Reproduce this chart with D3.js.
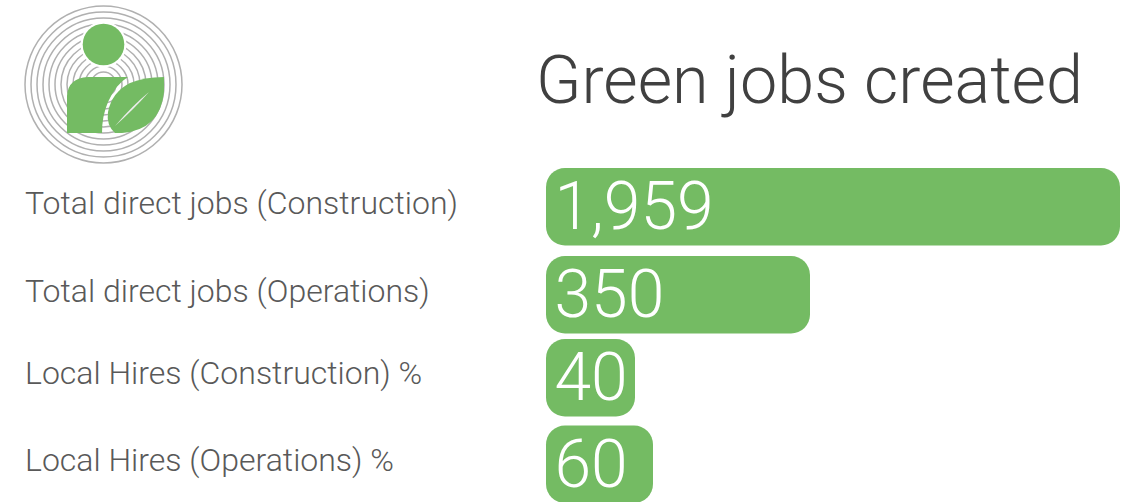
<!DOCTYPE html>
<html><head><meta charset="utf-8">
<script src="https://cdn.jsdelivr.net/npm/d3@7/dist/d3.min.js"></script>
<style>html,body{margin:0;padding:0;background:#fff;overflow:hidden}svg{display:block}</style>
</head><body><svg id="c" width="1129" height="502"></svg>
<script>
const categories = ["Total direct jobs (Construction)","Total direct jobs (Operations)","Local Hires (Construction) %","Local Hires (Operations) %"];
const values = [1959,350,40,60];
const valueLabels = ["1,959","350","40","60"];
const titleText = "Green jobs created";
const ringRadii = [78.5,72.5,66.5,60.5,54.5,48.5,42.5,36.5,30.5,24.5,18.5,12.5];

const GREEN="#74bb63", FONT="Roboto, sans-serif";
const svg=d3.select("#c");
const x=d3.scaleLinear().domain([40,60,350,1959]).range([89,107,264,574]);
const y=d3.scaleOrdinal().domain(categories).range([168,256,339,425.5]);
const barX=546, barH=77.5;

// logo
const logo=svg.append("g");
logo.selectAll("circle.r").data(ringRadii).join("circle").attr("class","r")
 .attr("cx",103.5).attr("cy",84.5).attr("r",d=>d)
 .attr("fill","none").attr("stroke","#b0b0b0").attr("stroke-width",1.5);
logo.append("circle").attr("cx",103.5).attr("cy",44.5).attr("r",23).attr("fill","#fff");
logo.append("circle").attr("cx",103.5).attr("cy",44.5).attr("r",20.8).attr("fill",GREEN);
logo.append("path").attr("fill",GREEN)
 .attr("d","M67 133 L67 96 Q68 78 88 77 L128 77 Q116 84 108 102 Q102 116 102 133 Z");
logo.append("path").attr("fill",GREEN)
 .attr("d","M164 77 L164 92 Q160 130 122 133 L115 133 Q106 125 108 112 Q112 92 130 83 Q144 77 164 77 Z");
logo.append("path").attr("fill","#ececec")
 .attr("d","M149 92 Q133 105 115 126 Q134 109 149 92 Z");

// title
svg.append("text").attr("x",536).attr("y",103).attr("font-family",FONT).attr("font-weight",300)
 .attr("font-size",66.5).attr("fill","#404040").text(titleText);

// bars
const rows=svg.selectAll("g.row").data(categories.map((c,i)=>({c,v:values[i],l:valueLabels[i]}))).join("g").attr("class","row");
rows.append("rect").attr("x",barX).attr("y",d=>y(d.c)).attr("width",d=>x(d.v)).attr("height",barH)
 .attr("rx",19).attr("fill",GREEN);
rows.append("text").attr("x",barX+8.5).attr("y",d=>y(d.c)+61).attr("font-family",FONT).attr("font-weight",300)
 .attr("font-size",66).attr("fill","#fff").text(d=>d.l);
const labelY=d3.scaleOrdinal().domain(categories).range([214,302,384,471]);
rows.append("text").attr("x",25).attr("y",d=>labelY(d.c)).attr("font-family",FONT).attr("font-weight",300)
 .attr("font-size",32).attr("fill","#595959").text(d=>d.c);
</script></body></html>
